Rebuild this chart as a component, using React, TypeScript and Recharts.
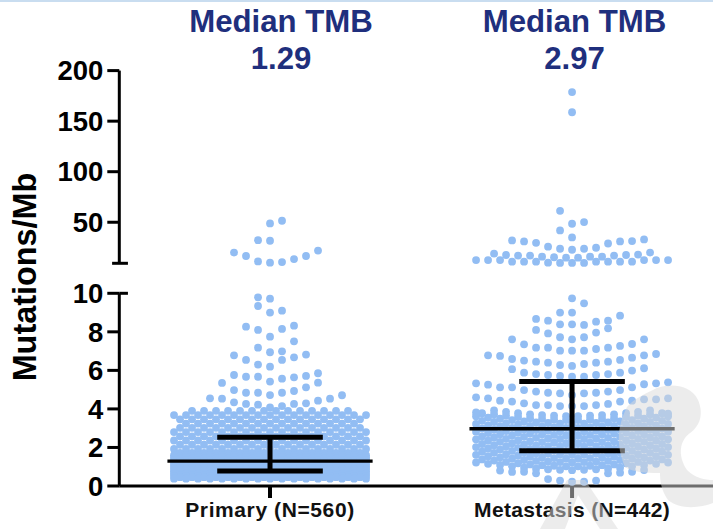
import React from 'react';
import { ScatterChart, Scatter, XAxis, YAxis, ReferenceLine } from 'recharts';

const categories = ['Primary (N=560)', 'Metastasis (N=442)'];
const medians = [1.29, 2.97];
const lowerQuartiles = [0.78, 1.83];
const upperQuartiles = [2.53, 5.42];
const medianLabels = ['1.29', '2.97'];
const upperTicks = [50, 100, 150, 200];
const lowerTicks = [0, 2, 4, 6, 8, 10];

// [column offset, value]
const primaryUpper = [[1,51.5],[0,48.8],[-1,32.3],[0,31.7],[-3,20],[-2,16.6],[-1,11.3],[0,10],[1,10.6],[2,13.6],[3,16.6],[4,22]];
const metastasisUpper = [
  [0,178.8],[0,158.8],[-1,61.3],[0,48.5],[1,50.2],[-1,41.9],[0,35],
  [-5,32],[-4,31],[-3,29.7],[-2,25.8],[-1,23.8],[0,22.8],[1,23.8],[2,24.8],[3,29],[4,31],[5,31.4],[6,33],
  [-8,12.6],[-7,12.6],[-6.5,18.9],[-6,12.6],[-5.5,17.6],[-5,11],[-4.5,17],[-4,11],[-3.5,17],[-3,11],[-2.5,16],[-2,10],[-1.5,15.4],[-1,9.8],[-0.5,15],[0,9.8],[0.5,15],[1,9.8],[1.5,16],[2,11],[2.5,16],[3,11],[3.5,17],[4,11],[4.5,17.6],[5,11],[5.5,18],[6,12.6],[6.5,20],[7,12.6],[8,12.6]
];
const primarySparse = [
  [-1,9.79],[0,9.72],[-1,9.34],[0,9],[1,9.1],[-2,8.27],[-1,8.1],[1,8.15],[2,8.32],[0,7.75],[2,7.51],[-1,7.18],[0,6.94],[1,6.99],[-3,6.78],[3,6.82],[-2,6.54],[1,6.54],[2,6.68],[-1,6.3],[0,6.19],
  [-3,5.76],[-2,5.67],[-1,5.67],[0,5.42],[1,5.57],[2,5.64],[3,5.71],[4,5.85],[4,5.36],[-4,5.35],[3,5.12],[-3,4.98],[-2,4.84],[-1,4.84],[0,4.72],[1,4.84],[2,4.93],
  [-5,4.55],[-4,4.53],[-3,4.34],[-2,4.26],[-1,4.22],[0,4.08],[1,4.15],[2,4.26],[3,4.29],[4,4.43],[5,4.53],[6,4.71]
];
const metastasisSparse = [
  [0,9.74],[1,9.48],[-1,9],[0,9],[4,8.84],
  [-3,8.67],[-2,8.58],[-1,8.39],[0,8.39],[1,8.36],[2,8.53],[3,8.58],
  [-3,8.1],[-2,7.92],[-1,7.72],[0,7.61],[1,7.72],[2,7.96],[3,8.18],
  [-5,7.61],[-4,7.35],[-3,7.18],[-2,7.18],[-1,7.02],[0,7.02],[1,7.02],[2,7.11],[3,7.18],[4,7.27],[5,7.37],[6,7.61],
  [-7,6.78],[-6,6.75],[-5,6.59],[-4,6.51],[-3,6.45],[-2,6.4],[-1,6.28],[0,6.23],[1,6.33],[2,6.4],[3,6.45],[4,6.54],[5,6.66],[6,6.78],[7,6.85],
  [-5,6.06],[-4,5.88],[-3,5.81],[-2,5.76],[-1,5.71],[0,5.67],[1,5.67],[2,5.76],[3,5.81],[4,5.88],[5,5.99],[6,6.11],
  [-8,5.33],[-7,5.26],[-6,5.12],[-5,5.12],[-4,4.98],[-3,4.9],[-2,4.84],[-1,4.81],[0,4.72],[1,4.81],[2,4.84],[3,4.9],[4,4.98],[5,5.12],[6,5.28],[7,5.33],[8,5.38],
  [-8,4.6],[-7,4.55],[-6,4.43],[-5,4.38],[-4,4.29],[-3,4.2],[-2,4.2],[-1,4.15],[0,4.15],[1,4.15],[2,4.2],[3,4.26],[4,4.38],[5,4.43],[6,4.5],[7,4.5],[8,4.55],
  [-8,3.82],[8,3.75],
  [-6,0.8],[-5,0.73],[-4,0.74],[-3,0.66],[3,0.66],[4,0.69],[5,0.74],[6,0.83],[-2,0.36],[-1,0.28],[0,0.22],[1,0.22],[2,0.28]
];
// [value, first column offset, last column offset] for the tightly packed rows
const primaryRows = [
  [3.9,-6.5,6.5],[3.68,-8,8],[3.46,-7.5,7.5],[3.24,-7,7],[3.02,-7.5,7.5],[2.8,-8,8],[2.58,-7.5,7.5],[2.36,-8,8],[2.14,-7.5,7.5],[1.92,-8,8],[1.72,-7.5,7.5],
  [1.6,-8,8],[1.54,-7.5,7.5],[1.48,-8,8],[1.42,-7.5,7.5],[1.36,-8,8],[1.3,-7.5,7.5],[1.24,-8,8],[1.18,-7.5,7.5],[1.12,-8,8],[1.06,-7.5,7.5],[1,-8,8],[0.94,-7.5,7.5],[0.88,-8,8],[0.82,-7.5,7.5],[0.76,-8,8],[0.7,-7.5,7.5],[0.64,-8,8],[0.58,-7.5,7.5],[0.52,-8,8],[0.46,-7.5,7.5],[0.38,-8,8]
];
// the metastasis rows bow upward towards the outer columns
const metastasisRows = [
  [3.42,-7.5,7.5],[3.22,-8,8],[3.02,-7.5,7.5],[2.82,-8,8],[2.62,-7.5,7.5],[2.42,-8,8],[2.22,-7.5,7.5],[2.02,-8,8],[1.82,-7.5,7.5],[1.62,-8,8],[1.42,-7.5,7.5],[1.22,-8,8],[1.02,-7.5,7.5],[0.82,-8,8],[3.62,-6.5,6.5]
];
const rowLift = [0,0,0.02,0.03,0.05,0.06,0.08,0.1,0.13,0.16,0.2,0.23,0.27,0.3,0.33,0.36,0.4];

const CENTERS = [12.56, 37.73];
const X_MAX = 49.475;
const DOT = '#92BDF3';
const FONT = '"Liberation Sans", Arial, sans-serif';
const NAVY = '#1F2F7D';

const place = (center: number, pts: number[][]) => pts.map(([o, v]) => ({ x: center + o, y: v }));
const expand = (rows: number[][], lift?: number[]) => {
  const out: number[][] = [];
  rows.forEach(([v, a, b]) => {
    for (let o = a; o <= b; o += 1) out.push([o, v + (lift ? lift[Math.abs(o) * 2] : 0)]);
  });
  return out;
};

const Dot = (p: any) => <circle cx={p.cx} cy={p.cy} r={3.9} fill={DOT} />;
const NoDot = () => null;
const tickStyle = { fontSize: 27.5, fontWeight: 700, fontFamily: FONT, fill: '#000' };
const seg = (x1: number, x2: number, y1: number, y2: number, w: number, k: string) => (
  <ReferenceLine key={k} ifOverflow="visible" stroke="#000" strokeWidth={w}
    segment={[{ x: x1, y: y1 }, { x: x2, y: y2 }]} />
);
const bar = (x1: number, x2: number, y1: number, y2: number, w: number, k: string) => (
  <Scatter key={k} data={[{ x: x1, y: y1 }, { x: x2, y: y2 }]} isAnimationActive={false}
    line={{ stroke: '#000', strokeWidth: w }} shape={NoDot} />
);

const CategoryTick = (p: any) => {
  const i = CENTERS.indexOf(p.payload.value);
  return (
    <text x={p.x} y={p.y + 17} textAnchor="middle" fontFamily={FONT} fontWeight={700} fontSize={21}
      letterSpacing={i === 0 ? 0.6 : 0.35} fill="#111">
      {categories[i]}
    </text>
  );
};

const titleStyle = (left: number, top: number): React.CSSProperties => ({
  position: 'absolute', left: left - 120, width: 240, top, textAlign: 'center',
  fontFamily: FONT, fontWeight: 700, fontSize: 31.2, lineHeight: '36px', color: NAVY,
});

export default function App() {
  return (
    <div style={{ position: 'absolute', left: 0, top: 0, width: 713, height: 529, background: '#fff', overflow: 'hidden' }}>
      <div style={{ position: 'absolute', left: 0, top: 0, width: 713, height: 2, background: '#C9DDF0' }} />
      <div style={titleStyle(281, 4)}>Median TMB</div>
      <div style={titleStyle(281, 41)}>{medianLabels[0]}</div>
      <div style={titleStyle(574.5, 4)}>Median TMB</div>
      <div style={titleStyle(574.5, 41)}>{medianLabels[1]}</div>
      <div style={{ position: 'absolute', left: 0, top: 0 }}>
        <ScatterChart width={713} height={280} margin={{ top: 70.6, right: 0, bottom: 16.7, left: 0 }}>
          <XAxis type="number" dataKey="x" domain={[0, X_MAX]} hide />
          <YAxis type="number" dataKey="y" width={119.3} domain={[9.4, 200]} ticks={upperTicks} interval={0}
            tick={tickStyle} tickSize={12} tickMargin={4}
            axisLine={{ stroke: '#000', strokeWidth: 3 }} tickLine={{ stroke: '#000', strokeWidth: 3 }} />
          <Scatter data={place(CENTERS[0], primaryUpper)} isAnimationActive={false} shape={Dot} />
          <Scatter data={place(CENTERS[1], metastasisUpper)} isAnimationActive={false} shape={Dot} />
          {seg(-0.6, 0.72, 9.4, 9.4, 3, 'cap')}
        </ScatterChart>
      </div>
      <div style={{ position: 'absolute', left: 0, top: 270 }}>
        <ScatterChart width={713} height={259} margin={{ top: 23.3, right: 0, bottom: 0, left: 0 }}>
          <XAxis type="number" dataKey="x" domain={[0, X_MAX]} ticks={CENTERS} interval={0} height={43}
            tick={<CategoryTick />} tickSize={12} axisLine={{ stroke: '#000', strokeWidth: 3 }} tickLine={{ stroke: '#000', strokeWidth: 4 }} />
          <YAxis type="number" dataKey="y" width={119.3} domain={[0, 10]} ticks={lowerTicks} interval={0}
            tick={tickStyle} tickSize={12} tickMargin={4}
            axisLine={{ stroke: '#000', strokeWidth: 3 }} tickLine={{ stroke: '#000', strokeWidth: 3 }} />
          <Scatter data={place(CENTERS[0], [...expand(primaryRows), ...primarySparse])} isAnimationActive={false} shape={Dot} />
          <Scatter data={place(CENTERS[1], [...expand(metastasisRows, rowLift), ...metastasisSparse])} isAnimationActive={false} shape={Dot} />
          {seg(0, 0.72, 10, 10, 3, 'cap')}
          {CENTERS.map((c, i) => bar(c - 8.55, c + 8.55, medians[i], medians[i], 3.3, `m${i}`))}
          {CENTERS.map((c, i) => bar(c - 4.4, c + 4.4, upperQuartiles[i], upperQuartiles[i], 5, `u${i}`))}
          {CENTERS.map((c, i) => bar(c - 4.4, c + 4.4, lowerQuartiles[i], lowerQuartiles[i], 5, `l${i}`))}
          {CENTERS.map((c, i) => bar(c, c, lowerQuartiles[i], upperQuartiles[i], 5, `s${i}`))}
        </ScatterChart>
      </div>
      <div style={{ position: 'absolute', left: 25, top: 277, width: 0, height: 0 }}>
        <div style={{ position: 'absolute', left: -150, top: -18, width: 300, height: 36, lineHeight: '36px', textAlign: 'center', transform: 'rotate(-90deg)',
          fontFamily: FONT, fontWeight: 700, fontSize: 32.4, color: '#000', whiteSpace: 'nowrap' }}>Mutations/Mb</div>
      </div>
      <svg width={713} height={529} style={{ position: 'absolute', left: 0, top: 0, pointerEvents: 'none' }}>
        <path fill="#D9D9D9" fillOpacity={0.5}
          d="M653 390 C665 383 690 383 698 400 C704 414 700 426 690 433 C680 440 677 455 687 470 C695 478 705 480 713 480 L713 503 C700 508 680 510 668 500 C661 490 660 480 660 473 C645 473 632 472 625 467 C618 450 615 430 627 407 C635 398 645 394 653 390 Z" />
        <path fill="#D9D9D9" fillOpacity={0.5} d="M567 480 L540 529 L565 529 L578 495 L600 529 L618 529 L585 480 Z" />
      </svg>
    </div>
  );
}
